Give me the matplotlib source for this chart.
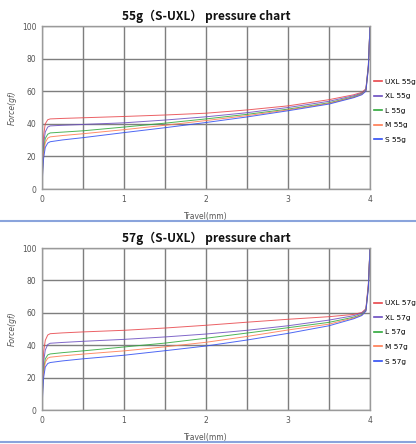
import matplotlib
matplotlib.use("Agg")
from matplotlib import pyplot as plt
from matplotlib.ticker import MultipleLocator

travel = [0, 0.01, 0.02, 0.04, 0.07, 0.1, 0.25, 0.5, 1, 1.5, 2, 2.5, 3, 3.5,
          3.8, 3.9, 3.95, 3.98, 4.0]

sizes = ["UXL", "XL", "L", "M", "S"]
colors = ["#e8454a", "#6a4cc0", "#2ea83a", "#ff7a50", "#2f4df2"]

force_55 = {
    "UXL": [0, 22, 33, 40, 42.5, 43, 43.3, 43.7, 44.5, 45.4, 46.5, 48.5, 51.0, 54.8, 57.8, 59.3, 61.5, 76, 100],
    "XL":  [0, 18, 28, 35, 38, 38.7, 39.1, 39.6, 40.6, 42.3, 44.3, 46.8, 50.0, 53.8, 57.2, 58.8, 61.0, 76, 100],
    "L":   [0, 15, 24, 31, 33.6, 34.4, 34.9, 35.7, 38.0, 40.4, 43.0, 45.8, 49.0, 52.9, 56.6, 58.4, 60.5, 75, 100],
    "M":   [0, 14, 22, 28.5, 31.2, 32.0, 32.8, 33.9, 36.4, 39.1, 42.0, 45.0, 48.5, 52.5, 56.3, 58.1, 60.3, 74, 100],
    "S":   [0, 12, 19, 25.5, 28.2, 29.0, 30.1, 31.5, 34.6, 37.6, 40.8, 44.2, 48.0, 52.1, 56.0, 57.8, 60.0, 74, 100],
}

force_57 = {
    "UXL": [0, 25, 36, 43, 46.3, 47.1, 47.6, 48.2, 49.2, 50.6, 52.3, 54.2, 56.0, 57.6, 59.0, 60.2, 62.5, 78, 100],
    "XL":  [0, 20, 30, 37, 40.4, 41.2, 41.7, 42.4, 43.6, 45.1, 46.9, 49.2, 52.0, 55.5, 58.2, 59.8, 62.0, 77, 100],
    "L":   [0, 16, 25, 31.5, 34.0, 34.6, 35.4, 36.5, 38.9, 41.3, 44.3, 47.5, 50.8, 54.1, 57.3, 59.0, 61.5, 76, 100],
    "M":   [0, 15, 23, 29.5, 32.0, 32.6, 33.4, 34.5, 36.5, 39.0, 41.8, 45.4, 49.4, 53.0, 56.8, 58.6, 61.2, 76, 100],
    "S":   [0, 12, 20, 26.5, 28.7, 29.3, 30.3, 31.6, 33.8, 36.6, 39.5, 43.2, 47.3, 52.0, 56.3, 58.3, 61.0, 75, 100],
}

W, H = 416, 444
fig = plt.figure(figsize=(W / 100, H / 100), dpi=100)
title_font = ["Noto Sans CJK SC", "DejaVu Sans"]


def draw_chart(top_px, bottom_px, weight, forces):
    ax = fig.add_axes([42 / W, 1 - bottom_px / H, 328 / W, (bottom_px - top_px) / H])
    for size, color in zip(sizes, colors):
        ax.plot(travel, forces[size], color=color, lw=0.7, alpha=0.85,
                label="%s %sg" % (size, weight))
    ax.set_xlim(0, 4)
    ax.set_ylim(0, 100)
    ax.xaxis.set_major_locator(MultipleLocator(1))
    ax.xaxis.set_minor_locator(MultipleLocator(0.5))
    ax.yaxis.set_major_locator(MultipleLocator(20))
    ax.grid(which="both", color="#7e7e7e", lw=1.0)
    ax.set_axisbelow(True)
    for sp in ax.spines.values():
        sp.set_color("#9a9a9a")
        sp.set_linewidth(1.0)
    ax.tick_params(which="both", length=0, labelsize=5.5, labelcolor="#555555", pad=4)
    ax.set_xlabel("Travel(mm)", fontsize=5.5, color="#555555", labelpad=6)
    ax.set_ylabel("Force(gf)", fontsize=5.5, color="#555555", style="italic", labelpad=4)
    ax.set_title("%sg（S-UXL） pressure chart" % weight, family=title_font,
                 fontsize=8.6, fontweight="bold", color="#111111", pad=4)
    leg = ax.legend(loc="center left", bbox_to_anchor=(1.0, 0.48), frameon=False,
                    fontsize=5.3, handlelength=1.1, handletextpad=0.4,
                    labelspacing=1.15, borderaxespad=0.15)
    for line in leg.get_lines():
        line.set_linewidth(1.2)
        line.set_alpha(1)
    return ax


draw_chart(26, 189, "55", force_55)
draw_chart(248, 410, "57", force_57)

# light blue separator lines between the panels
for y_px in (221, 442):
    fig.add_artist(plt.Line2D([0, 1], [1 - y_px / H] * 2, color="#8aa4dc", lw=1.5,
                              transform=fig.transFigure))

fig.savefig("out.png", dpi=100)
